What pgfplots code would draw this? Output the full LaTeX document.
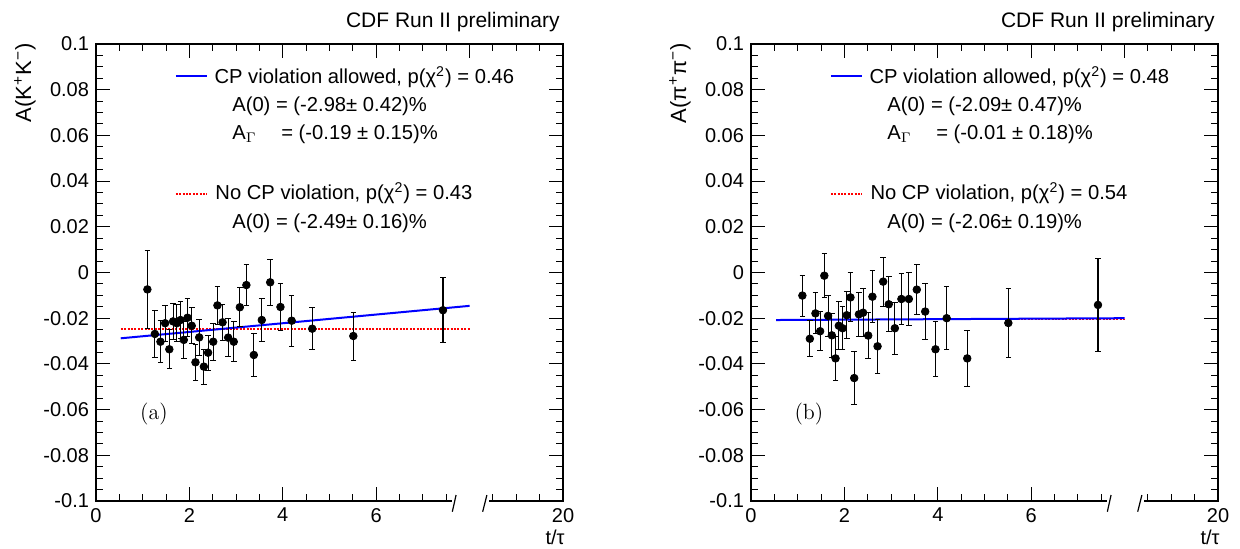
\documentclass[border=0pt]{standalone}
\usepackage{pgfplots}
\pgfplotsset{compat=1.18}
\usepackage{fontspec}
\setsansfont{Liberation Sans}
\renewcommand{\familydefault}{\sfdefault}

\pgfplotstableread{
x     y       e
1.10 -0.0074 0.0170
1.26 -0.0269 0.0104
1.38 -0.0303 0.0093
1.48 -0.0222 0.0079
1.57 -0.0336 0.0085
1.65 -0.0214 0.0080
1.73 -0.0222 0.0080
1.81 -0.0208 0.0080
1.88 -0.0295 0.0080
1.96 -0.0198 0.0082
2.05 -0.0233 0.0078
2.13 -0.0393 0.0080
2.21 -0.0284 0.0080
2.31 -0.0412 0.0076
2.40 -0.0351 0.0077
2.51 -0.0303 0.0080
2.60 -0.0144 0.0082
2.71 -0.0218 0.0080
2.83 -0.0285 0.0082
2.95 -0.0303 0.0088
3.08 -0.0152 0.0085
3.22 -0.0055 0.0089
3.38 -0.0361 0.0093
3.55 -0.0208 0.0095
3.73 -0.0043 0.0102
3.95 -0.0151 0.0104
4.19 -0.0211 0.0111
4.63 -0.0246 0.0093
5.51 -0.0278 0.0105
7.43 -0.0165 0.0143
}\kk

\pgfplotstableread{
x     y       e
1.10 -0.0101 0.0090
1.26 -0.0290 0.0079
1.38 -0.0179 0.0090
1.48 -0.0257 0.0086
1.57 -0.0014 0.0096
1.65 -0.0190 0.0091
1.73 -0.0275 0.0095
1.81 -0.0376 0.0096
1.88 -0.0233 0.0105
1.96 -0.0244 0.0095
2.05 -0.0187 0.0104
2.13 -0.0109 0.0107
2.21 -0.0462 0.0115
2.31 -0.0183 0.0096
2.40 -0.0176 0.0105
2.51 -0.0276 0.0100
2.60 -0.0106 0.0114
2.71 -0.0323 0.0117
2.83 -0.0040 0.0107
2.95 -0.0139 0.0120
3.08 -0.0244 0.0113
3.22 -0.0116 0.0111
3.38 -0.0116 0.0118
3.55 -0.0075 0.0111
3.73 -0.0171 0.0124
3.95 -0.0336 0.0120
4.19 -0.0200 0.0137
4.63 -0.0376 0.0124
5.51 -0.0221 0.0151
7.43 -0.0142 0.0204
}\pipi

\newcommand\lf{\fontsize{10.1}{12}\selectfont}
\tikzset{nocp/.style={red, line width=0.9pt, dash pattern=on 1pt off 0.7pt}}

\pgfplotsset{
  frame/.style={
    scale only axis, width=233.5pt, height=228.5pt, anchor=south west,
    xmin=0, xmax=10, ymin=-0.1, ymax=0.1,
    tick align=inside, clip=false,
    major tick length=7pt, minor tick length=3.5pt,
    tick style={black, line width=0.5pt},
    axis line style={line width=0.6pt},
    ticklabel style={font=\fontsize{10}{11}\selectfont},
  },
  cdf/.style={
    frame,
    xtick={0,2,4,6,10}, xticklabels={0,2,4,6,20},
    minor xtick={0.5,1,1.5,2.5,3,3.5,4.5,5,5.5,6.5,7,7.5,8.5,9,9.5},
    xtick pos=left,
    ytick={-0.1,-0.08,-0.06,-0.04,-0.02,0,0.02,0.04,0.06,0.08,0.1},
    yticklabels={-0.1,-0.08,-0.06,-0.04,-0.02,0,0.02,0.04,0.06,0.08,0.1},
    minor y tick num=3,
  },
  toptick/.style={
    frame,
    xtick={0,2,...,10}, minor x tick num=3,
    xtick pos=right, xticklabels={,,},
    ytick=\empty, axis line style={draw=none},
  },
  pts/.style={only marks, mark=*, mark size=1.9pt, black,
    error bars/.cd, y dir=both, y explicit, error mark=-,
    error mark options={rotate=90, mark size=1.4pt, line width=0.5pt, black},
    error bar style={line width=0.55pt, black}},
}

\newcommand\brk{%
  \fill[white] (axis cs:7.62,-0.1015) rectangle (axis cs:8.42,-0.0985);
  \draw[line width=0.6pt] (axis cs:7.71,-0.0974) -- (axis cs:7.63,-0.1047);
  \draw[line width=0.6pt] (axis cs:8.37,-0.0974) -- (axis cs:8.28,-0.1047);
}

\begin{document}
\begin{tikzpicture}
\useasboundingbox (0pt,0pt) rectangle (620pt,274.5pt);

% ---- left panel: K+K-
\begin{axis}[toptick, at={(48pt,24pt)}]
\end{axis}
\begin{axis}[cdf, at={(48pt,24pt)}]
\addplot[nocp] coordinates {(0.53,-0.0249)(8.0,-0.0249)};
\addplot[blue, line width=1pt] coordinates {(0.53,-0.0288)(8.0,-0.0146)};
\addplot[pts] table[x=x, y=y, y error=e] {\kk};
\brk
\draw[blue, line width=0.7pt] (axis description cs:0.171,0.930) -- (axis description cs:0.238,0.930);
\node[anchor=base west, inner sep=0, font=\lf] at (axis description cs:0.253,0.914) {CP violation allowed, p(χ\textsuperscript{2}) = 0.46};
\node[anchor=base west, inner sep=0, font=\lf] at (axis description cs:0.291,0.852) {A(0) = (-2.98± 0.42)\%};
\node[anchor=base west, inner sep=0, font=\lf] at (axis description cs:0.291,0.790) {A$_\Gamma$};
\node[anchor=base west, inner sep=0, font=\lf] at (axis description cs:0.396,0.790) {= (-0.19 ± 0.15)\%};
\draw[nocp, line width=0.7pt] (axis description cs:0.171,0.672) -- (axis description cs:0.238,0.672);
\node[anchor=base west, inner sep=0, font=\lf] at (axis description cs:0.255,0.659) {No CP violation, p(χ\textsuperscript{2}) = 0.43};
\node[anchor=base west, inner sep=0, font=\lf] at (axis description cs:0.291,0.597) {A(0) = (-2.49± 0.16)\%};
\node[font=\rmfamily\fontsize{11}{13}\selectfont] at (axis description cs:0.124,0.191) {(a)};
\end{axis}
\node[anchor=base east, inner sep=0, font=\fontsize{10.5}{12}\selectfont] at (280pt,260.5pt) {CDF Run II preliminary};
\node[anchor=base east, inner sep=0, font=\fontsize{10}{12}\selectfont] at (282.5pt,2pt) {t/τ};
\node[rotate=90, anchor=base east, inner sep=0, font=\fontsize{11}{13}\selectfont] at (15.5pt,253pt) {A(K\textsuperscript{+}K\textsuperscript{−})};

% ---- right panel: pi+pi-
\begin{axis}[toptick, at={(375.5pt,24pt)}]
\end{axis}
\begin{axis}[cdf, at={(375.5pt,24pt)}]
\addplot[nocp] coordinates {(0.54,-0.0206)(8.0,-0.0206)};
\addplot[blue, line width=1pt] coordinates {(0.54,-0.0208)(8.0,-0.0200)};
\addplot[pts] table[x=x, y=y, y error=e] {\pipi};
\brk
\draw[blue, line width=0.7pt] (axis description cs:0.171,0.930) -- (axis description cs:0.238,0.930);
\node[anchor=base west, inner sep=0, font=\lf] at (axis description cs:0.253,0.914) {CP violation allowed, p(χ\textsuperscript{2}) = 0.48};
\node[anchor=base west, inner sep=0, font=\lf] at (axis description cs:0.291,0.852) {A(0) = (-2.09± 0.47)\%};
\node[anchor=base west, inner sep=0, font=\lf] at (axis description cs:0.291,0.790) {A$_\Gamma$};
\node[anchor=base west, inner sep=0, font=\lf] at (axis description cs:0.396,0.790) {= (-0.01 ± 0.18)\%};
\draw[nocp, line width=0.7pt] (axis description cs:0.171,0.672) -- (axis description cs:0.238,0.672);
\node[anchor=base west, inner sep=0, font=\lf] at (axis description cs:0.255,0.659) {No CP violation, p(χ\textsuperscript{2}) = 0.54};
\node[anchor=base west, inner sep=0, font=\lf] at (axis description cs:0.291,0.597) {A(0) = (-2.06± 0.19)\%};
\node[font=\rmfamily\fontsize{11}{13}\selectfont] at (axis description cs:0.124,0.191) {(b)};
\end{axis}
\node[anchor=base east, inner sep=0, font=\fontsize{10.5}{12}\selectfont] at (607.5pt,260.5pt) {CDF Run II preliminary};
\node[anchor=base east, inner sep=0, font=\fontsize{10}{12}\selectfont] at (610pt,2pt) {t/τ};
\node[rotate=90, anchor=base east, inner sep=0, font=\fontsize{11}{13}\selectfont] at (343pt,253pt) {A(π\textsuperscript{+}π\textsuperscript{−})};
\end{tikzpicture}
\end{document}
